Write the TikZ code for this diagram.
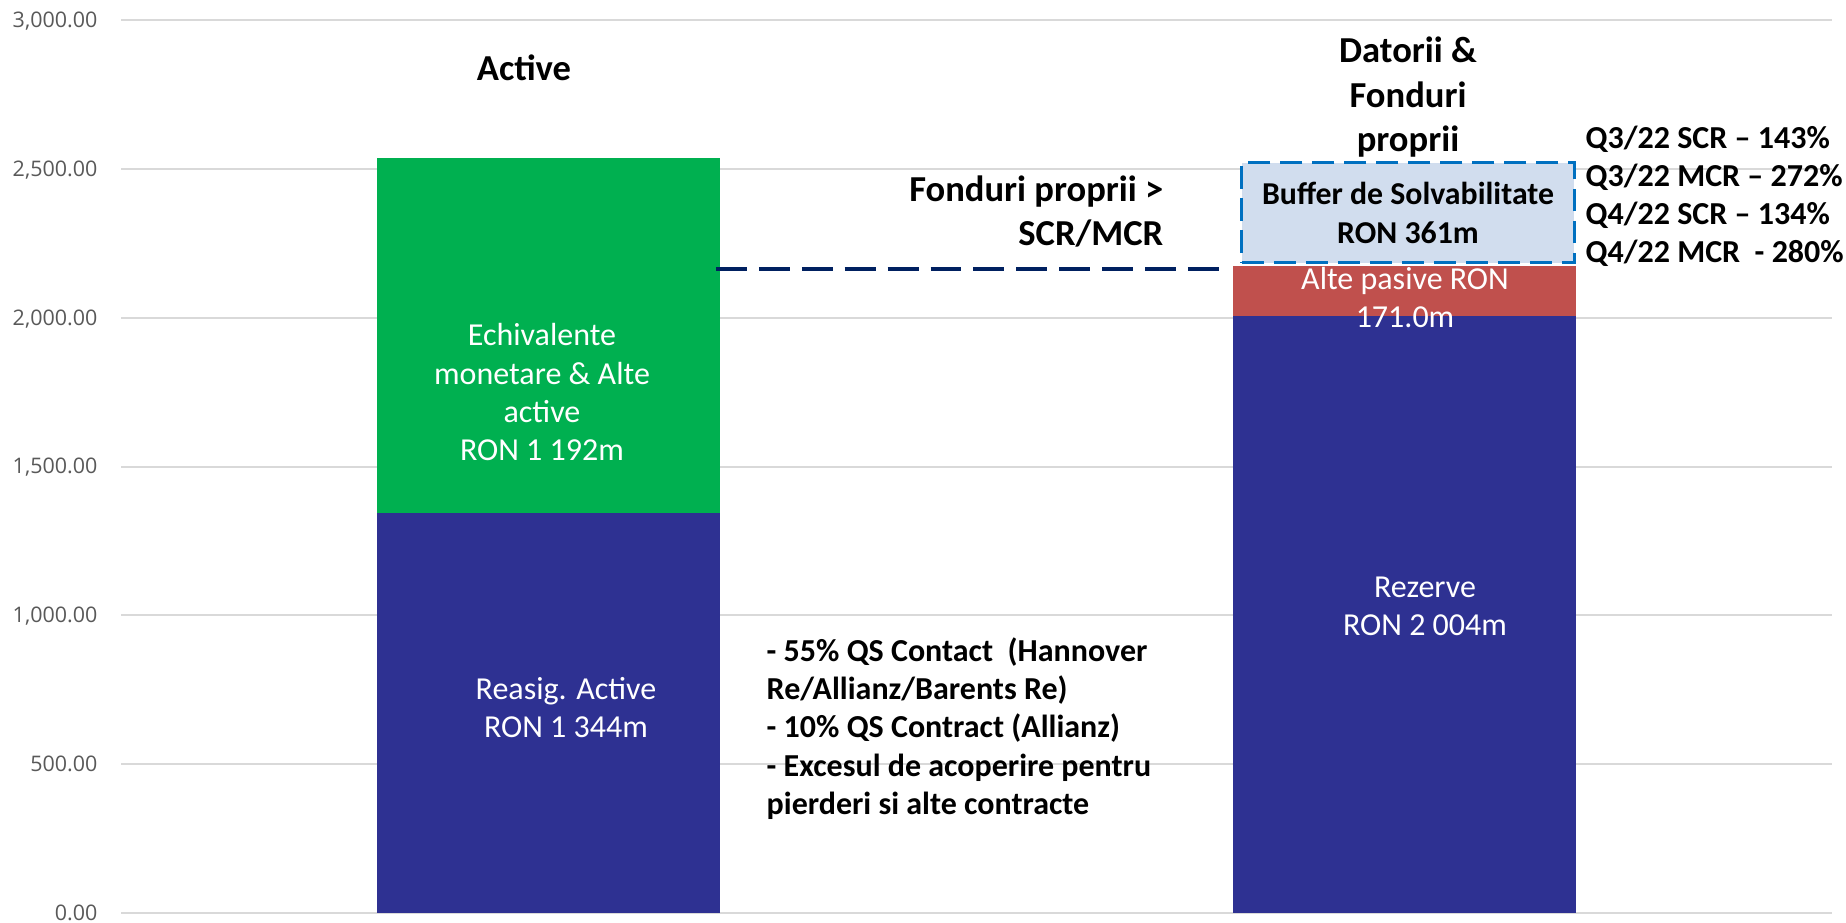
\documentclass[tikz,border=0pt]{standalone}
\usepackage{fontspec}
\setmainfont{Carlito}
\newfontfamily\axisfont{Open Sans}
\definecolor{gridgray}{HTML}{D9D9D9}
\definecolor{axisgray}{HTML}{595959}
\definecolor{barnavy}{HTML}{2E3192}
\definecolor{bargreen}{HTML}{00B050}
\definecolor{barred}{HTML}{C0504D}
\definecolor{bufferfill}{HTML}{D1DDEE}
\definecolor{bufferblue}{HTML}{0070C0}
\definecolor{scrnavy}{HTML}{002060}
\begin{document}
\begin{tikzpicture}[x=0.01cm, y=0.002979cm,
    gridline/.style={draw=gridgray, line width=0.57pt},
    axislabel/.style={anchor=base east, inner sep=0pt, text=axisgray, font=\axisfont\fontsize{6.1}{7}\selectfont},
    bartext/.style={anchor=base, inner sep=0pt, align=center, text=white, font=\fontsize{9.1}{10.9}\selectfont},
    headtext/.style={inner sep=0pt, font=\bfseries\fontsize{10.4}{12.66}\selectfont},
    notetext/.style={inner sep=0pt, align=left, anchor=base west, font=\bfseries\fontsize{9.1}{10.9}\selectfont},
    ratiotext/.style={inner sep=0pt, align=left, anchor=base west, font=\bfseries\fontsize{9.1}{10.8}\selectfont},
    bufferbox/.style={draw=bufferblue, fill=bufferfill, line width=0.85pt, dash pattern=on 6.3pt off 2.8pt,
      align=center, inner sep=0pt, minimum width=3.32cm, minimum height=1cm,
      font=\bfseries\fontsize{9.05}{11.2}\selectfont},
    scrline/.style={draw=scrnavy, line width=1.14pt, dash pattern=on 8.8pt off 3.4pt}]
  \useasboundingbox (0,-31.2) rectangle (1846,3067.1);

  % grid and axis values
  \foreach \v/\t in {0/0.00, 500/500.00, 1000/{1,000.00}, 1500/{1,500.00}, 2000/{2,000.00}, 2500/{2,500.00}, 3000/{3,000.00}} {
    \draw[gridline] (121,\v) -- (1832,\v);
    \node[axislabel] at (98,\v-25) {\t};
  }

  % Active
  \fill[barnavy] (377,0) rectangle (720,1344);
  \fill[bargreen] (377,1344) rectangle (720,2536);
  % Datorii & Fonduri proprii
  \fill[barnavy] (1233,0) rectangle (1576,2004);
  \fill[barred] (1233,2004) rectangle (1576,2175);

  \node[bufferbox] (buffer) at (1408,2352) {Buffer de Solvabilitate\\RON 361m};

  \coordinate (scrA) at (716,2164);
  \coordinate (scrB) at (1229,2164);
  \draw[scrline] (scrA) -- (scrB);

  % multi-line texts sit on the baseline of their last line
  \node[headtext, anchor=base] (active) at (524,2795) {Active};
  \node[headtext, anchor=base, align=center] (datorii) at (1408,2556.9) {Datorii \&\\Fonduri\\proprii};
  \node[headtext, anchor=base east, align=right] (fonduri) at (1164,2241.3) {Fonduri proprii >\\SCR/MCR};

  \node[bartext] (echiv) at (542,1519.6) {Echivalente\\monetare \& Alte\\active\\RON 1 192m};
  \node[bartext] (reasig) at (566,589.8) {Reasig. Active\\RON 1 344m};
  \node[bartext] (rezerve) at (1425,932.2) {Rezerve\\RON 2 004m};
  \node[bartext] (alte) at (1405,1966.1) {Alte pasive RON\\171.0m};

  \node[ratiotext] (ratios) at (1585,2184.3) {Q3/22 SCR -- 143\%\\Q3/22 MCR -- 272\%\\Q4/22 SCR -- 134\%\\Q4/22 MCR\ \ - 280\%};

  \node[notetext] (reasignote) at (766,331.3) {- 55\% QS Contact\ \ (Hannover\\Re/Allianz/Barents Re)\\- 10\% QS Contract (Allianz)\\- Excesul de acoperire pentru\\pierderi si alte contracte};
\end{tikzpicture}
\end{document}
